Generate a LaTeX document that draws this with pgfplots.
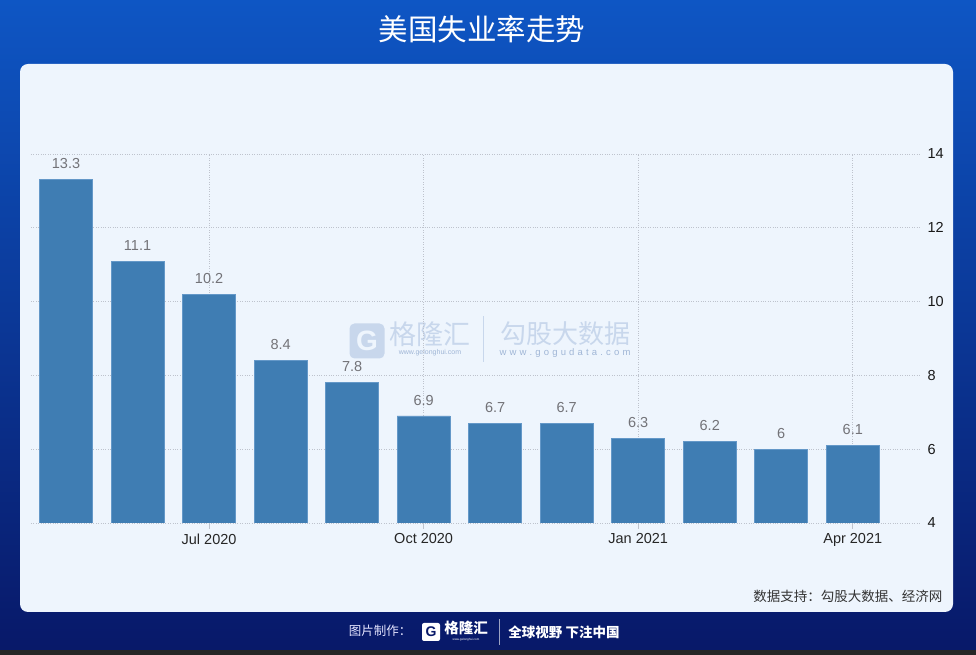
\documentclass[border=0pt]{standalone}
\usepackage{pgfplots}
\pgfplotsset{compat=1.18}
\usepackage{fontspec}
\setmainfont{Liberation Sans}
\newfontfamily\cjk{Noto Sans CJK SC}
\definecolor{bgtop}{RGB}{14,86,196}
\definecolor{bgbot}{RGB}{8,24,104}
\definecolor{panel}{RGB}{238,245,253}
\definecolor{barblue}{RGB}{63,125,179}
\definecolor{baredge}{RGB}{100,152,200}
\definecolor{vallab}{RGB}{115,115,120}
\definecolor{wm}{RGB}{200,215,236}
\definecolor{wmtext}{RGB}{160,182,214}
\definecolor{gridc}{RGB}{190,195,205}
\begin{document}
\begin{tikzpicture}[x=1pt,y=1pt]
\useasboundingbox (0,0) rectangle (976,655);
\shade[top color=bgtop, bottom color=bgbot] (0,0) rectangle (976,655);
\fill[black!85] (0,0) rectangle (976,5);
\node[text=white, font=\cjk\fontsize{29.5}{32}\selectfont] at (482,626) {美国失业率走势};
\fill[panel, rounded corners=8pt] (20,43) rectangle (953,591);
% watermark
\node[fill=wm, rounded corners=5pt, minimum size=35pt, inner sep=0pt, text=panel, font=\bfseries\fontsize{28}{30}\selectfont] at (367,314) {G};
\node[text=wm, font=\cjk\fontsize{27}{30}\selectfont] at (430,321) {格隆汇};
\node[text=wmtext, font=\fontsize{7}{8}\selectfont] at (430,302) {www.gelonghui.com};
\draw[wm, line width=1pt] (483,293) -- (483,339);
\node[text=wm, font=\cjk\fontsize{26}{28}\selectfont] at (565,321) {勾股大数据};
\node[text=wmtext, font=\fontsize{9.5}{10}\selectfont] at (565,302) {w\,\,w\,\,w\,\,.\,\,g\,\,o\,\,g\,\,u\,\,d\,\,a\,\,t\,\,a\,\,.\,\,c\,\,o\,\,m};
\begin{axis}[
  scale only axis, width=889pt, height=369pt,
  at={(31pt,132pt)}, anchor=south west,
  xmin=-0.49, xmax=11.94, ymin=4, ymax=14,
  axis line style={draw=none},
  clip mode=individual,
  xtick={2,5,8,11},
  xticklabels={Jul 2020,Oct 2020,Jan 2021,Apr 2021},
  ytick={4,6,...,14},
  yticklabel pos=right,
  ytick style={draw=none},
  xtick style={draw=gridc, line width=0.8pt},
  tick align=outside, x tick label style={font=\fontsize{14.5}{16}\selectfont, text=black!85, yshift=-1pt},
  xtick pos=bottom,
  major tick length=6pt,
  y tick label style={font=\fontsize{14.5}{16}\selectfont, text=black!90, xshift=-2pt},
  grid=major,
  major grid style={gridc, dotted, line width=0.9pt},
  /pgf/number format/assume math mode=true,
]
\addplot[ybar, bar width=53pt, fill=barblue, draw=baredge, line width=0.8pt,
  nodes near coords,
  every node near coord/.append style={font=\fontsize{14.5}{16}\selectfont, text=vallab, anchor=south, yshift=7pt}]
coordinates {(0,13.3)(1,11.1)(2,10.2)(3,8.4)(4,7.8)(5,6.9)(6,6.7)(7,6.7)(8,6.3)(9,6.2)(10,6)(11,6.1)};
\end{axis}
\node[anchor=east, text=black!80, font=\cjk\fontsize{13.5}{15}\selectfont] at (946,59) {数据支持：勾股大数据、经济网};
% bottom credit
\node[text=white!90!blue, font=\cjk\fontsize{12.5}{14}\selectfont] at (380,24) {图片制作：};
\node[fill=white, rounded corners=2pt, minimum size=18pt, inner sep=0pt, text=bgbot, font=\bfseries\fontsize{14}{15}\selectfont] at (431,23) {G};
\node[text=white, font=\cjk\bfseries\fontsize{14.5}{16}\selectfont] at (466,27) {格隆汇};
\node[text=white, font=\fontsize{3}{4}\selectfont] at (466,15) {www.gelonghui.com};
\draw[white!60!bgbot, line width=1pt] (499,10) -- (499,36);
\node[text=white, font=\cjk\bfseries\fontsize{13.5}{15}\selectfont] at (564,23) {全球视野 下注中国};
\end{tikzpicture}
\end{document}
